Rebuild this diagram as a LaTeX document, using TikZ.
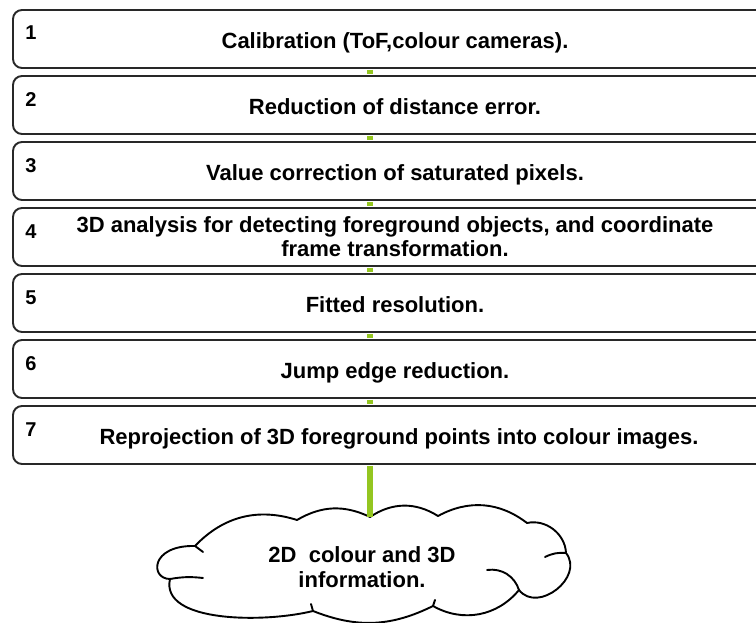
\documentclass[tikz,border=0pt]{standalone}
\usepackage{fontspec}
\setmainfont{Liberation Sans}
\usetikzlibrary{positioning}
\definecolor{linkgreen}{RGB}{148,198,32}
\definecolor{boxline}{RGB}{40,40,40}

\begin{document}
\begin{tikzpicture}[x=1pt,y=1pt,node distance=6.1pt,
    stage/.style={draw=boxline,line width=1.9pt,rounded corners=9pt,fill=white,
        minimum width=764pt,minimum height=58pt,align=center,inner sep=2pt,
        font=\bfseries\fontsize{22}{24}\selectfont},
    oneline/.style={text height=20pt,text depth=0pt},
    num/.style={anchor=north west,inner sep=0pt,font=\bfseries\fontsize{20}{22}\selectfont},
    link/.style={draw=linkgreen,line width=6pt},
    puff/.style={draw=black,line width=1.9pt,line join=round},
    hook/.style={draw=black,line width=1.9pt,line cap=round},
    cloudtext/.style={align=center,font=\bfseries\fontsize{22}{25}\selectfont}]
    \useasboundingbox (0,0) rectangle (756,623);
    \coordinate (spine) at (370,0);

    \node[stage,oneline] (s1) at (395,584) {Calibration (ToF,colour cameras).};
    \node[stage,oneline] (s2) [below=of s1] {Reduction of distance error.};
    \node[stage,oneline] (s3) [below=of s2] {Value correction of saturated pixels.};
    \node[stage] (s4) [below=of s3] {3D analysis for detecting foreground objects, and coordinate\\frame transformation.};
    \node[stage,oneline] (s5) [below=of s4] {Fitted resolution.};
    \node[stage,oneline] (s6) [below=of s5] {Jump edge reduction.};
    \node[stage,oneline] (s7) [below=of s6] {\hspace*{8pt}Reprojection of 3D foreground points into colour images.};

    \foreach \i in {1,...,7}
        \node[num] at ([shift={(13pt,-17pt)}]s\i.north west) {\i};

    % the cloud
    \coordinate (c1) at (370,106);
    \coordinate (c2) at (438,107);
    \coordinate (c3) at (527,100);
    \coordinate (c4) at (566,70);
    \coordinate (c5) at (519,33);
    \coordinate (c6) at (433,17);
    \coordinate (c7) at (313,12);
    \coordinate (c8) at (170,44);
    \coordinate (c9) at (195,77);
    \coordinate (c10) at (297,103);
    \draw[puff] (c1) to[bend left=33] (c2) to[bend left=33] (c3) to[bend left=50] (c4)
        to[bend left=90,looseness=1.3] (c5) to[bend left=40] (c6) to[bend left=24] (c7)
        .. controls (265,0) and (160,0) .. (c8)
        .. controls (150,44) and (150,78) .. (c9)
        to[bend left=32] (c10) to[bend left=28] cycle;
    \draw[hook] (c8) to[bend left=8] (203,45);
    \draw[hook] (c9) -- (203,71);
    \draw[hook] (c4) to[bend right=15] (545,66);
    \draw[hook] (487,53) to[bend left=40] (c5);
    \draw[hook] (c6) -- (435,23);
    \draw[hook] (c7) -- (311,19);
    \node[cloudtext] (info) at (362,56) {2D\ \ colour and 3D\\information.};

    % green links between the stages
    \foreach \i/\j in {1/2,2/3,3/4,4/5,5/6,6/7}
        \draw[link] ([yshift=-1pt]s\i.south -| spine) -- ([yshift=1pt]s\j.north -| spine);
    \draw[link] ([yshift=-1pt]s7.south -| spine) -- (c1);
\end{tikzpicture}
\end{document}
